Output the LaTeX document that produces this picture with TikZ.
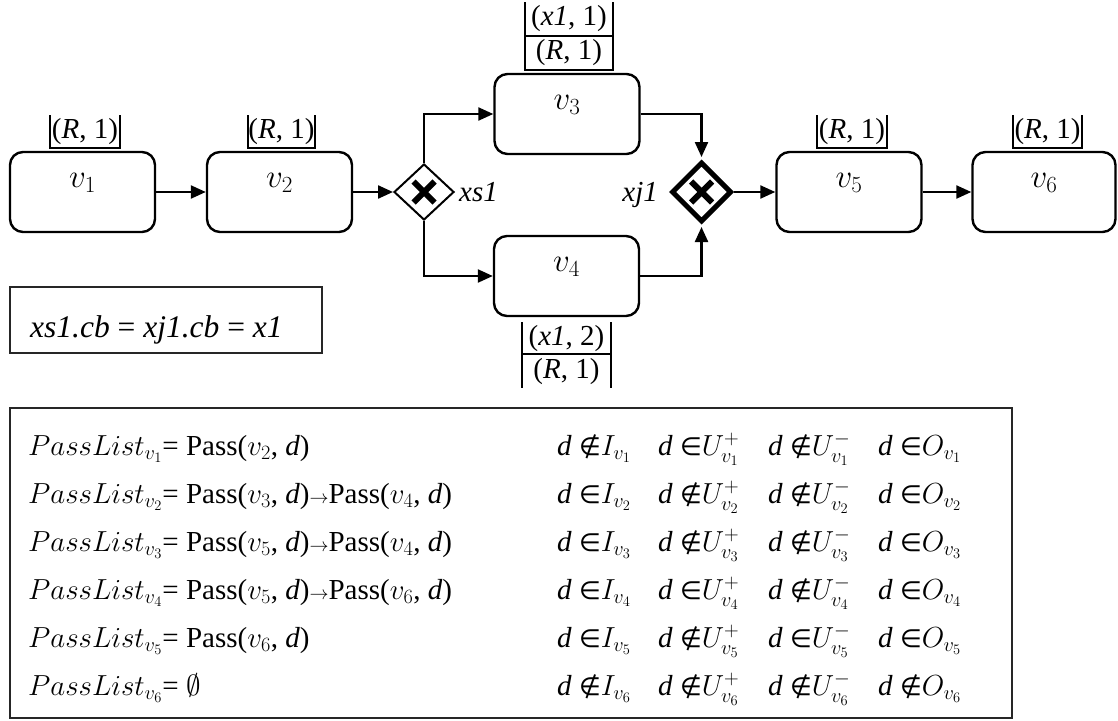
\RequirePackage{fix-cm}
\documentclass[tikz,border=0pt]{standalone}
\usepackage{amssymb}
\usepackage{fontspec}
\setmainfont{Liberation Serif}
\newfontfamily\opsfont{DejaVu Sans}
\usetikzlibrary{arrows.meta,shapes.geometric}

\tikzset{
  task/.style={draw, line width=2.4pt, rounded corners=13pt,
    minimum width=145pt, minimum height=80pt, inner sep=0pt},
  vtxt/.style={font=\fontsize{33}{38}\selectfont, inner sep=0pt, anchor=base},
  gate/.style={shape=diamond, draw, inner sep=0pt},
  cross/.style={line width=6pt},
  flow/.style={line width=2.3pt, -{Triangle[length=15pt,width=13pt]}},
  tbl/.style={line width=1.4pt},
  lbl/.style={font=\fontsize{29}{34}\selectfont, inner sep=0pt},
  rowtxt/.style={font=\fontsize{29}{34}\selectfont, inner sep=0pt, anchor=base west},
  frame/.style={draw=black!85, line width=1.3pt, inner sep=0pt},
}

\newcommand{\smallarrow}{{\fontsize{19}{19}\selectfont$\rightarrow$}}
\newcommand{\isin}{{\opsfont\fontsize{25}{25}\selectfont ∈}}
\newcommand{\nisin}{{\opsfont\fontsize{25}{25}\selectfont ∉}}

\begin{document}
\begin{tikzpicture}[x=1pt, y=-1pt]
\useasboundingbox (0,0) rectangle (1118,720);

% activity boxes
\node[task] (v1) at (82.5,192) {};
\node[task] (v2) at (279.5,192) {};
\node[task] (v3) at (567,114) {};
\node[task] (v4) at (566.5,276) {};
\node[task] (v5) at (849,192) {};
\node[task, minimum width=143pt] (v6) at (1044,192) {};

\foreach \n in {1,...,6}
  \node[vtxt] (v\n t) at ([yshift=-37pt]v\n.north) {$v_\n$};

% exclusive split / join gateways
\node[gate, line width=2pt, minimum width=60pt, minimum height=56pt] (xs1) at (424,192) {};
\node[gate, line width=5pt, minimum width=60pt, minimum height=60pt] (xj1) at (701.5,192) {};
\foreach \g in {xs1,xj1}
  \draw[cross] ([shift={(-10.5,-10.5)}]\g.center) -- ([shift={(10.5,10.5)}]\g.center)
               ([shift={(-10.5,10.5)}]\g.center) -- ([shift={(10.5,-10.5)}]\g.center);

\node[lbl, anchor=base west] (xs1l) at (459,201) {\textit{xs1}};
\node[lbl, anchor=base east] (xj1l) at (658,201) {\textit{xj1}};

% sequence flows
\draw[flow] (v1.east) -- (v2.west);
\draw[flow] (v2.east) -- (xs1.west);
\draw[flow] (xs1.north) |- (v3.west);
\draw[flow] (xs1.south) |- (v4.west);
\draw[flow, shorten >=2.5pt] (v3.east) -| (xj1.north);
\draw[flow, shorten >=2.5pt] (v4.east) -| (xj1.south);
\draw[flow] (xj1.east) -- (v5.west);
\draw[flow] (v5.east) -- (v6.west);

% tag tables
\draw[tbl] (50,115) |- (120,148) -- (120,115);
\node[lbl] (t1) at (85,132) {(\textit{R}, 1)};
\draw[tbl] (248,115) |- (315,148) -- (315,115);
\node[lbl] (t2) at (281.5,132) {(\textit{R}, 1)};
\draw[tbl] (817,115) |- (887,148) -- (887,115);
\node[lbl] (t5) at (852,132) {(\textit{R}, 1)};
\draw[tbl] (1013,115) |- (1082,148) -- (1082,115);
\node[lbl] (t6) at (1047.5,132) {(\textit{R}, 1)};

\draw[tbl] (525,2) |- (613,70) -- (613,2) (525,36) -- (613,36);
\node[lbl] (t3a) at (569,19) {(\textit{x1}, 1)};
\node[lbl] (t3b) at (569,53) {(\textit{R}, 1)};

\draw[tbl] (522,322) -- (522,388) (611,322) -- (611,388) (522,354) -- (611,354);
\node[lbl] (t4a) at (566.5,339) {(\textit{x1}, 2)};
\node[lbl] (t4b) at (566.5,372) {(\textit{R}, 1)};

% condition binding
\node[frame, minimum width=312pt, minimum height=66pt] (cbbox) at (166,320) {};
\node[font=\fontsize{31.5}{36}\selectfont, anchor=base west, inner sep=0pt] (cbtext) at (30,337)
  {\textit{xs1.cb} = \textit{xj1.cb} = \textit{x1}};

% pass lists
\node[frame, minimum width=1002pt, minimum height=310pt] (passbox) at (511,563) {};

\foreach \i/\rhs/\ci/\cu/\cm/\co in {
  1/{Pass($v_2$, \textit{d})}/\nisin/\isin/\nisin/\isin,
  2/{Pass($v_3$, \textit{d})\smallarrow Pass($v_4$, \textit{d})}/\isin/\nisin/\nisin/\isin,
  3/{Pass($v_5$, \textit{d})\smallarrow Pass($v_4$, \textit{d})}/\isin/\nisin/\nisin/\isin,
  4/{Pass($v_5$, \textit{d})\smallarrow Pass($v_6$, \textit{d})}/\isin/\isin/\nisin/\isin,
  5/{Pass($v_6$, \textit{d})}/\isin/\nisin/\isin/\isin,
  6/{$\emptyset$}/\nisin/\nisin/\nisin/\nisin} {
  \pgfmathsetmacro{\yy}{455+48*(\i-1)}
  \node[rowtxt] (r\i) at (28,\yy) {$PassList_{v_\i}$= \rhs};
  \node[rowtxt] (ci\i) at (557,\yy) {\textit{d} \ci$I_{v_\i}$};
  \node[rowtxt] (cu\i) at (658,\yy) {\textit{d} \cu$U^{+}_{v_\i}$};
  \node[rowtxt] (cm\i) at (768,\yy) {\textit{d} \cm$U^{-}_{v_\i}$};
  \node[rowtxt] (co\i) at (878,\yy) {\textit{d} \co$O_{v_\i}$};
}
\end{tikzpicture}
\end{document}
